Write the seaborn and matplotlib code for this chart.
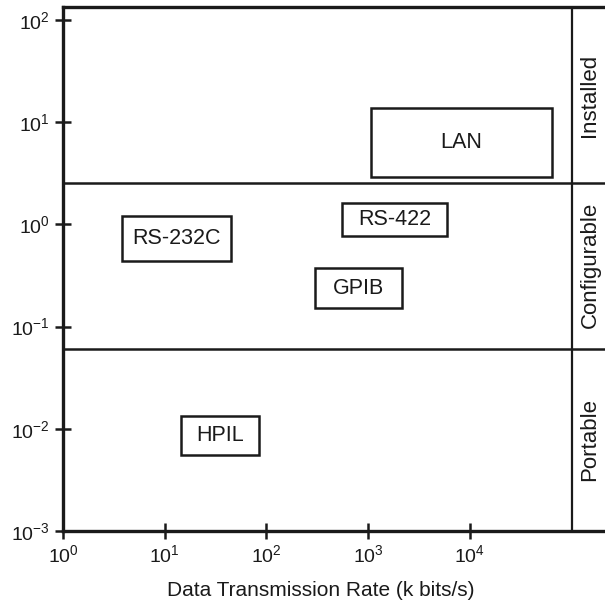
import matplotlib
matplotlib.use("Agg")
import matplotlib.pyplot as plt
import matplotlib.patches as patches
import seaborn as sns

# interface boxes: rate range (k bits/s) and value range (y)
interfaces = ["LAN", "RS-232C", "RS-422", "GPIB", "HPIL"]
rate_lo = [1.07e3, 3.8, 554, 301, 14.5]
rate_hi = [6.43e4, 44.9, 5970, 2155, 84.6]
val_lo = [2.91, 0.439, 0.769, 0.152, 0.00555]
val_hi = [13.8, 1.21, 1.62, 0.374, 0.0133]

# bands on the right side
bands = ["Installed", "Configurable", "Portable"]
band_edges = [2.54, 0.0604]
band_centers = [18.4, 0.40, 0.0078]

x_ticks = [1, 10, 100, 1000, 10000]
x_labels = [r"$\mathregular{10^{0}}$", r"$\mathregular{10^{1}}$", r"$\mathregular{10^{2}}$",
            r"$\mathregular{10^{3}}$", r"$\mathregular{10^{4}}$"]
y_ticks = [1e-3, 1e-2, 1e-1, 1, 10, 100]
y_labels = [r"$\mathregular{10^{-3}}$", r"$\mathregular{10^{-2}}$", r"$\mathregular{10^{-1}}$",
            r"$\mathregular{10^{0}}$", r"$\mathregular{10^{1}}$", r"$\mathregular{10^{2}}$"]

sns.set_theme(style="white")
plt.rcParams["font.family"] = ["Liberation Sans", "DejaVu Sans"]
plt.rcParams["mathtext.fontset"] = "custom"
plt.rcParams["mathtext.rm"] = "Liberation Sans"
plt.rcParams["mathtext.it"] = "Liberation Sans"
plt.rcParams["mathtext.bf"] = "Liberation Sans"

fig = plt.figure(figsize=(6.05, 6.06), dpi=100)
ax = fig.add_axes([63 / 605, 75 / 606, 542 / 605, 524 / 606])
ax.set_xscale("log")
ax.set_yscale("log")
ax.set_xlim(1, 10 ** (542 / 101.7))
ax.set_ylim(1e-3, 10 ** (-3 + 524 / 102.2))

ink = "#1a1a1a"
for name, x0, x1, y0, y1 in zip(interfaces, rate_lo, rate_hi, val_lo, val_hi):
    ax.add_patch(patches.Rectangle((x0, y0), x1 - x0, y1 - y0, fill=False,
                                   edgecolor=ink, linewidth=1.8))
    ax.text((x0 * x1) ** 0.5, (y0 * y1) ** 0.5, name, ha="center", va="center",
            fontsize=15.5, color=ink)

for e in band_edges:
    ax.axhline(e, color=ink, linewidth=1.8)
ax.axvline(1e5, color=ink, linewidth=1.6)

for name, c in zip(bands, band_centers):
    ax.text(1.52e5, c, name, rotation=90, ha="center", va="center",
            fontsize=16, color=ink)

ax.set_xticks(x_ticks)
ax.set_xticklabels(x_labels)
ax.set_yticks(y_ticks)
ax.set_yticklabels(y_labels)
ax.minorticks_off()
ax.tick_params(direction="inout", length=11, width=1.8, color=ink,
               labelsize=14, labelcolor=ink, pad=4, left=True, bottom=True)

for side in ["left", "bottom", "top"]:
    ax.spines[side].set_linewidth(2.4)
    ax.spines[side].set_color(ink)
ax.spines["right"].set_visible(False)

ax.set_xlabel("Data Transmission Rate (k bits/s)", fontsize=15, color=ink)
ax.xaxis.set_label_coords((321 - 63) / 542, -50 / 524)

fig.savefig("out.png", dpi=100)
